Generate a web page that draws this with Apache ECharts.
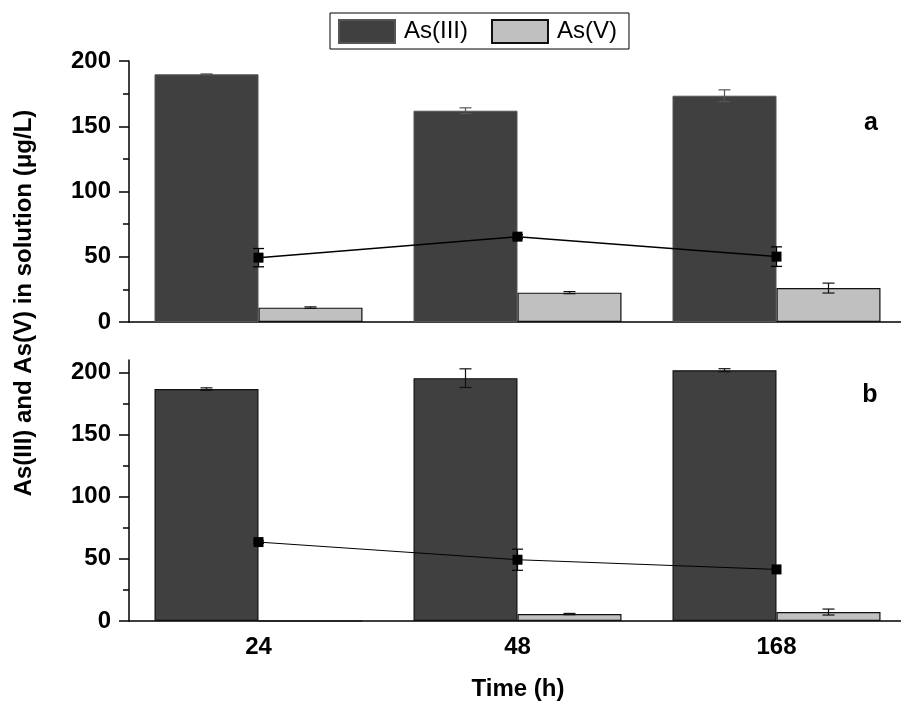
<!DOCTYPE html>
<html><head><meta charset="utf-8">
<script src="https://cdn.jsdelivr.net/npm/echarts@6/dist/echarts.min.js"></script>
<style>html,body{margin:0;padding:0;background:#fff}#c{width:901px;height:702px}</style>
</head><body><div id="c"></div>
<script>
const categories = ['24', '48', '168'];
// Panel a
const asIII_a = [189.8, 161.9, 173.4];
const asIII_a_err = [0.3, 2.2, 4.5];
const asV_a = [11.0, 22.5, 26.0];
const asV_a_err = [0.6, 0.8, 3.8];
const ratio_a = [49.3, 65.4, 50.1];
const ratio_a_err = [7.0, 1.5, 7.5];
// Panel b
const asIII_b = [186.6, 195.4, 201.8];
const asIII_b_err = [1.0, 7.5, 1.2];
const asV_b = [0, 5.6, 7.2];
const asV_b_err = [0, 0.5, 2.4];
const ratio_b = [63.5, 49.3, 41.5];
const ratio_b_err = [1.0, 8.5, 0];
// ticks
const yMajor = [0, 50, 100, 150, 200];
const yMinor = [25, 75, 125, 175];

const FONT = 'Liberation Sans, Arial, sans-serif';
const DARK = '#404040', LIGHT = '#c0c0c0';
const BW = 104;

function errSeries(vals, errs, xi, yi, offset, color, capW, lw) {
  return {
    type: 'custom', xAxisIndex: xi, yAxisIndex: yi, z: 10, silent: true,
    data: vals.map((v, i) => [i, v, errs[i]]),
    renderItem(params, api) {
      const i = api.value(0), v = api.value(1), e = api.value(2);
      if (!e) return null;
      const hi = api.coord([i, v + e]), lo = api.coord([i, v - e]);
      const x = hi[0] + offset;
      const st = { stroke: color, lineWidth: lw };
      return { type: 'group', children: [
        { type: 'line', shape: { x1: x, y1: hi[1], x2: x, y2: lo[1] }, style: st },
        { type: 'line', shape: { x1: x - capW / 2, y1: hi[1], x2: x + capW / 2, y2: hi[1] }, style: st },
        { type: 'line', shape: { x1: x - capW / 2, y1: lo[1], x2: x + capW / 2, y2: lo[1] }, style: st }
      ]};
    }
  };
}

function xAxes(gi, showLabels) {
  return [
    { type: 'category', gridIndex: gi, data: categories, position: 'bottom',
      axisLine: { lineStyle: { color: '#000', width: 1.5 } },
      axisTick: { alignWithLabel: true, length: 11, lineStyle: { color: '#000', width: 1.5 } },
      axisLabel: { show: showLabels, color: '#000', fontFamily: FONT, fontWeight: 'bold', fontSize: 24, margin: 14 } },
    { type: 'category', gridIndex: gi, data: categories, position: 'bottom',
      axisLine: { show: false },
      axisTick: { alignWithLabel: false, length: 5, lineStyle: { color: '#000', width: 1.5 } },
      axisLabel: { show: false } }
  ];
}
function yAxes(gi, max) {
  return [
    { type: 'value', gridIndex: gi, min: 0, max: max, interval: 50, position: 'left',
      axisLine: { show: true, lineStyle: { color: '#000', width: 1.5 } },
      axisTick: { show: true, length: 10, customValues: yMajor, lineStyle: { color: '#000', width: 1.5 } },
      axisLabel: { customValues: yMajor, color: '#000', fontFamily: FONT, fontWeight: 'bold', fontSize: 24, margin: 18 },
      splitLine: { show: false } },
    { type: 'value', gridIndex: gi, min: 0, max: max, interval: 50, position: 'left',
      axisLine: { show: false },
      axisTick: { show: true, length: 6, customValues: yMinor, lineStyle: { color: '#000', width: 1.5 } },
      axisLabel: { show: false }, splitLine: { show: false } }
  ];
}

const chart = echarts.init(document.getElementById('c'), null, { renderer: 'canvas' });
chart.setOption({
  backgroundColor: '#fff',
  animation: false,
  textStyle: { fontFamily: FONT },
  grid: [
    { left: 129, top: 61, width: 777, height: 261, outerBoundsMode: 'none', containLabel: false },
    { left: 129, top: 360, width: 777, height: 261, outerBoundsMode: 'none', containLabel: false }
  ],
  legend: {
    data: ['As(III)', 'As(V)'], left: 330, top: 13, icon: 'rect',
    itemWidth: 56, itemHeight: 23, itemGap: 23,
    borderColor: '#000', borderWidth: 1, padding: [6, 12, 5, 8],
    textStyle: { fontSize: 24, color: '#000', fontFamily: FONT, padding: [0, 0, 0, 4] }
  },
  xAxis: [...xAxes(0, false), ...xAxes(1, true)],
  yAxis: [...yAxes(0, 200), ...yAxes(1, 210)],
  series: [
    { name: 'As(III)', type: 'bar', xAxisIndex: 0, yAxisIndex: 0, data: asIII_a, barWidth: BW, barGap: '0%',
      itemStyle: { color: DARK, borderColor: '#555', borderWidth: 1 } },
    { name: 'As(V)', type: 'bar', xAxisIndex: 0, yAxisIndex: 0, data: asV_a, barWidth: BW, barGap: '0%',
      itemStyle: { color: LIGHT, borderColor: '#111', borderWidth: 1.2 } },
    { name: 'As(III)', type: 'bar', xAxisIndex: 2, yAxisIndex: 2, data: asIII_b, barWidth: BW, barGap: '0%',
      itemStyle: { color: DARK, borderColor: '#111', borderWidth: 1.2 } },
    { name: 'As(V)', type: 'bar', xAxisIndex: 2, yAxisIndex: 2, data: asV_b, barWidth: BW, barGap: '0%',
      itemStyle: { color: LIGHT, borderColor: '#111', borderWidth: 1.2 } },
    { name: 'ratio a', type: 'line', xAxisIndex: 0, yAxisIndex: 0, data: ratio_a, z: 5,
      symbol: 'rect', symbolSize: 10, itemStyle: { color: '#000' }, lineStyle: { color: '#000', width: 1.5 } },
    { name: 'ratio b', type: 'line', xAxisIndex: 2, yAxisIndex: 2, data: ratio_b, z: 5,
      symbol: 'rect', symbolSize: 10, itemStyle: { color: '#000' }, lineStyle: { color: '#000', width: 1 } },
    errSeries(asIII_a, asIII_a_err, 0, 0, -BW / 2, '#555', 12, 1.2),
    errSeries(asV_a, asV_a_err, 0, 0, BW / 2, '#111', 12, 1.2),
    errSeries(ratio_a, ratio_a_err, 0, 0, 0, '#000', 11, 1.3),
    errSeries(asIII_b, asIII_b_err, 2, 2, -BW / 2, '#111', 12, 1.2),
    errSeries(asV_b, asV_b_err, 2, 2, BW / 2, '#111', 12, 1.2),
    errSeries(ratio_b, ratio_b_err, 2, 2, 0, '#000', 11, 1.2)
  ],
  graphic: [
    { type: 'text', x: 871, y: 123, style: { text: 'a', font: 'bold 25px ' + FONT, fill: '#000', textAlign: 'center', textVerticalAlign: 'middle' } },
    { type: 'text', x: 870, y: 395, style: { text: 'b', font: 'bold 25px ' + FONT, fill: '#000', textAlign: 'center', textVerticalAlign: 'middle' } },
    { type: 'text', x: 24, y: 303, rotation: Math.PI / 2, style: { text: 'As(III) and As(V) in solution (μg/L)', font: 'bold 24px ' + FONT, fill: '#000', textAlign: 'center', textVerticalAlign: 'middle' } },
    { type: 'text', x: 518, y: 689, style: { text: 'Time (h)', font: 'bold 24px ' + FONT, fill: '#000', textAlign: 'center', textVerticalAlign: 'middle' } }
  ]
});
</script></body></html>
